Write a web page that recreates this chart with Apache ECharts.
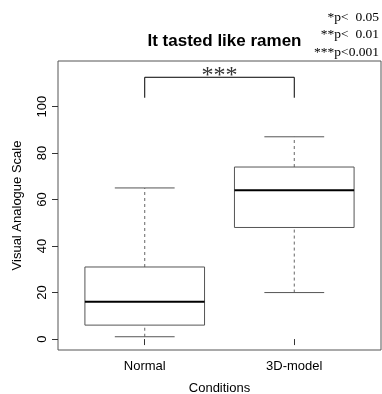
<!DOCTYPE html>
<html>
<head>
<meta charset="utf-8">
<script src="https://cdn.jsdelivr.net/npm/echarts@6/dist/echarts.min.js"></script>
<style>
html, body { margin: 0; padding: 0; background: #fff; }
#chart { width: 382px; height: 394px; }
</style>
</head>
<body>
<div id="chart"></div>
<script>
// box statistics per condition
var categories = ['Normal', '3D-model'];
var lowWhisker = [1, 20];
var lowerQuartile = [6, 48];
var medians = [16, 64];
var upperQuartile = [31, 74];
var highWhisker = [65, 87];
// axis ticks
var yTicks = [0, 20, 40, 60, 80, 100];
var xTicks = [1, 2];
// significance bracket
var bracketEnds = [1, 2];
var bracketLevels = [103.8, 112.6];
var sigLabel = '***';
var pNotes = ['*p<  0.05', '**p<  0.01', '***p<0.001'];

var sans = 'Liberation Sans, Arial, sans-serif';
var serif = 'Liberation Serif, Times New Roman, serif';

var chart = echarts.init(document.getElementById('chart'));

var boxData = categories.map(function(c, i) {
	return [i + 1, lowWhisker[i], lowerQuartile[i], medians[i], upperQuartile[i], highWhisker[i]];
});

//箱线图绘制
var renderBox = function(params, api) {
	var x = api.value(0);
	var lo = api.coord([x, api.value(1)]);
	var q1 = api.coord([x, api.value(2)]);
	var md = api.coord([x, api.value(3)]);
	var q3 = api.coord([x, api.value(4)]);
	var hi = api.coord([x, api.value(5)]);
	var bl = api.coord([x - 0.4, 0])[0];
	var br = api.coord([x + 0.4, 0])[0];
	var cl = api.coord([x - 0.2, 0])[0];
	var cr = api.coord([x + 0.2, 0])[0];
	var dash = { stroke: '#666', lineWidth: 1, lineDash: [3, 3] };
	var solid = { stroke: '#555', lineWidth: 1 };
	return {
		type: 'group',
		children: [
			{ type: 'line', shape: { x1: lo[0], y1: lo[1], x2: q1[0], y2: q1[1] }, style: dash },
			{ type: 'line', shape: { x1: q3[0], y1: q3[1], x2: hi[0], y2: hi[1] }, style: dash },
			{ type: 'line', shape: { x1: cl, y1: lo[1], x2: cr, y2: lo[1] }, style: solid },
			{ type: 'line', shape: { x1: cl, y1: hi[1], x2: cr, y2: hi[1] }, style: solid },
			{ type: 'rect', shape: { x: bl, y: q3[1], width: br - bl, height: q1[1] - q3[1] },
				style: { fill: '#fff', stroke: '#555', lineWidth: 1 } },
			{ type: 'line', shape: { x1: bl, y1: md[1], x2: br, y2: md[1] }, style: { stroke: '#000', lineWidth: 2 } }
		]
	};
};

//显著性标注
var renderBracket = function(params, api) {
	var a = api.coord([api.value(0), api.value(2)]);
	var b = api.coord([api.value(1), api.value(3)]);
	var top = b[1];
	return {
		type: 'group',
		children: [
			{ type: 'polyline', shape: { points: [[a[0], a[1]], [a[0], top], [b[0], top], [b[0], a[1]]] },
				style: { stroke: '#000', lineWidth: 1, fill: null } },
			{ type: 'text', x: (a[0] + b[0]) / 2, y: top - 14,
				style: { text: sigLabel, font: '24px ' + serif, fill: '#333', align: 'center', verticalAlign: 'top' } }
		]
	};
};

var option = {
	animation: false,
	backgroundColor: '#fff',
	title: {
		text: 'It tasted like ramen',
		left: 219.5,
		top: 28,
		textAlign: 'center',
		textStyle: { fontFamily: sans, fontSize: 17, fontWeight: 'bold', color: '#000' }
	},
	graphic: pNotes.map(function(t, i) {
		return {
			type: 'text', right: 3, top: 10 + i * 17.5,
			style: { text: t, font: '13.5px ' + serif, fill: '#000' }
		};
	}),
	grid: {
		left: 58, right: 1, top: 61, bottom: 44,
		outerBoundsMode: 'none',
		containLabel: false,
		show: true, borderColor: '#555', borderWidth: 1, backgroundColor: 'transparent'
	},
	xAxis: {
		type: 'value',
		min: 0.42, max: 2.58,
		name: 'Conditions',
		nameLocation: 'middle',
		nameGap: 32,
		nameTextStyle: { fontFamily: sans, fontSize: 13, color: '#000' },
		axisLine: { show: false },
		axisTick: { show: true, length: 6, customValues: xTicks, lineStyle: { color: '#333' } },
		axisLabel: {
			customValues: xTicks, margin: 10,
			fontFamily: sans, fontSize: 13, color: '#000',
			formatter: function(v) { return categories[Math.round(v) - 1]; }
		},
		splitLine: { show: false }
	},
	yAxis: {
		type: 'value',
		min: -4.7, max: 119.6,
		name: 'Visual Analogue Scale',
		nameLocation: 'middle',
		nameGap: 34,
		nameRotate: 90,
		nameTextStyle: { fontFamily: sans, fontSize: 13, color: '#000' },
		axisLine: { show: false },
		axisTick: { show: true, length: 6, customValues: yTicks, lineStyle: { color: '#333' } },
		axisLabel: {
			customValues: yTicks, rotate: 90, margin: 9,
			fontFamily: sans, fontSize: 13, color: '#000'
		},
		splitLine: { show: false }
	},
	series: [{
		type: 'custom',
		renderItem: renderBox,
		data: boxData,
		encode: { x: 0, y: [1, 2, 3, 4, 5] }
	}, {
		type: 'custom',
		renderItem: renderBracket,
		data: [[bracketEnds[0], bracketEnds[1], bracketLevels[0], bracketLevels[1]]],
		encode: { x: [0, 1], y: [2, 3] }
	}]
};
chart.setOption(option);
</script>
</body>
</html>
